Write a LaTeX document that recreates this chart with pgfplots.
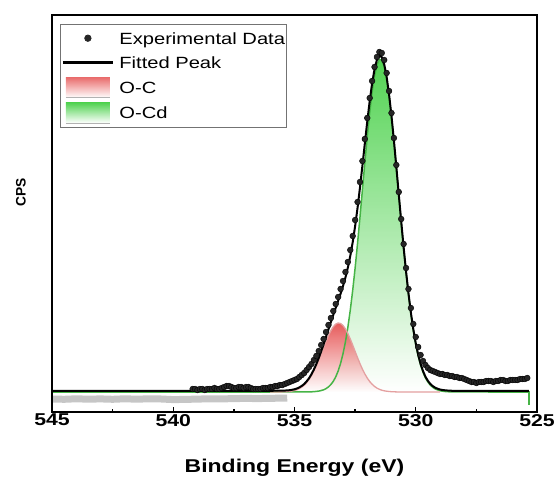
\documentclass[border=0pt]{standalone}
\usepackage{fontspec}
\setmainfont{Liberation Sans}[FakeStretch=1.24]
\newfontfamily\plainfont{Liberation Sans}
\usepackage{pgfplots}
\usepackage{pgfplotstable}
\pgfplotsset{compat=1.18}

\definecolor{gtop}{RGB}{40,200,40}
\definecolor{gmid}{RGB}{215,246,215}
\definecolor{rtop}{RGB}{225,50,50}
\definecolor{gline}{RGB}{70,180,70}
\definecolor{rline}{RGB}{228,160,160}

\pgfplotstableread{
x y
539.2 3
539.1 3
539.0 2
538.9 3
538.8 3
538.7 2
538.6 3
538.5 3
538.4 3
538.3 4
538.2 3
538.1 3
538.0 4
537.9 5
537.8 6
537.7 6
537.6 5
537.5 4
537.4 4
537.3 5
537.2 5
537.1 4
537.0 5
536.9 5
536.8 4
536.7 3
536.6 3
536.5 3
536.4 3
536.3 4
536.2 4
536.1 4
536.0 5
535.9 5
535.8 6
535.7 6
535.6 7
535.5 7
535.4 8
535.3 9
535.2 10
535.1 11
535.0 12
534.9 13
534.8 15
534.7 17
534.6 19
534.5 22
534.4 25
534.3 28
534.2 32
534.1 36
534.0 41
533.9 47
533.8 53
533.7 60
533.6 67
533.5 74
533.4 81
533.3 88
533.2 95
533.1 103
533.0 111
532.9 120
532.8 130
532.7 142
532.6 156
532.5 172
532.4 190
532.3 210
532.2 231
532.1 253
532.0 274
531.9 294
531.8 311
531.7 325
531.6 335
531.5 340
531.4 339
531.3 332
531.2 319
531.1 301
531.0 279
530.9 254
530.8 227
530.7 200
530.6 173
530.5 148
530.4 124
530.3 103
530.2 84
530.1 68
530.0 55
529.9 45
529.8 37
529.7 31
529.6 27
529.5 24
529.4 22
529.3 21
529.2 20
529.1 19
529.0 18
528.9 18
528.8 17
528.7 17
528.6 16
528.5 16
528.4 15
528.3 15
528.2 14
528.1 14
528.0 13
527.9 12
527.8 11
527.7 10
527.6 10
527.5 9
527.4 10
527.3 10
527.2 10
527.1 11
527.0 11
526.9 11
526.8 10
526.7 11
526.6 11
526.5 12
526.4 12
526.3 11
526.2 11
526.1 12
526.0 12
525.9 12
525.8 12
525.7 13
525.6 13
525.5 13
525.4 14
}\expdata

\pgfplotstableread{
x y
536.0 0
534.4 0
534.3 0.2
534.2 0.35
534.1 0.6
534.0 0.9
533.9 1.5
533.8 2.2
533.7 3.4
533.6 5.1
533.5 7.5
533.4 10.7
533.3 15.1
533.2 21.0
533.1 28.6
533.0 38.2
532.9 50.1
532.8 64.6
532.7 81.8
532.6 101.6
532.5 124.0
532.4 148.6
532.3 174.8
532.2 202.0
532.1 229.1
532.0 255.2
531.9 279.0
531.8 299.6
531.7 315.9
531.6 327.1
531.5 332.5
531.4 331.9
531.3 325.3
531.2 313.1
531.1 295.8
531.0 274.5
530.9 250.1
530.8 223.7
530.7 196.5
530.6 169.5
530.5 143.6
530.4 119.4
530.3 97.5
530.2 78.1
530.1 61.5
530.0 47.6
529.9 36.1
529.8 26.9
529.7 19.7
529.6 14.1
529.5 10.0
529.4 6.9
529.3 4.7
529.2 3.1
529.1 2.1
529.0 1.3
528.9 0.8
528.8 0.5
528.7 0.3
528.6 0.2
528.5 0
527.0 0
}\greenpeak

\pgfplotstableread{
x y
536.0 0
535.5 0.15
535.4 0.25
535.3 0.4
535.2 0.6
535.1 1.0
535.0 1.5
534.9 2.3
534.8 3.4
534.7 4.9
534.6 6.8
534.5 9.3
534.4 12.5
534.3 16.4
534.2 20.9
534.1 26.1
534.0 31.9
533.9 38.1
533.8 44.4
533.7 50.6
533.6 56.4
533.5 61.3
533.4 65.3
533.3 67.9
533.2 69.0
533.1 68.5
533.0 66.5
532.9 63.1
532.8 58.5
532.7 53.0
532.6 46.9
532.5 40.6
532.4 34.3
532.3 28.4
532.2 22.9
532.1 18.1
532.0 14.0
531.9 10.5
531.8 7.8
531.7 5.6
531.6 3.9
531.5 2.7
531.4 1.8
531.3 1.2
531.2 0.8
531.1 0.5
531.0 0.3
530.9 0.2
530.8 0.1
530.5 0
529.0 0
}\redpeak

\pgfplotstableread{
x y
545.0 0
536.0 0
535.5 0.2
535.4 0.25
535.3 0.4
535.2 0.6
535.1 1.0
535.0 1.5
534.9 2.3
534.8 3.4
534.7 4.9
534.6 6.8
534.5 9.4
534.4 12.6
534.3 16.6
534.2 21.3
534.1 26.7
534.0 32.8
533.9 39.6
533.8 46.6
533.7 54.0
533.6 61.5
533.5 68.8
533.4 76.0
533.3 83.0
533.2 90.0
533.1 97.1
533.0 104.7
532.9 113.2
532.8 123.1
532.7 134.8
532.6 148.5
532.5 164.6
532.4 182.9
532.3 203.2
532.2 224.9
532.1 247.2
532.0 269.2
531.9 289.5
531.8 307.4
531.7 321.5
531.6 331.0
531.5 335.2
531.4 333.7
531.3 326.5
531.2 313.9
531.1 296.3
531.0 274.8
530.9 250.3
530.8 223.8
530.7 196.5
530.6 169.5
530.5 143.6
530.4 119.4
530.3 97.5
530.2 78.1
530.1 61.5
530.0 47.6
529.9 36.1
529.8 26.9
529.7 19.7
529.6 14.1
529.5 10.0
529.4 6.9
529.3 4.7
529.2 3.1
529.1 2.1
529.0 1.3
528.9 0.8
528.8 0.5
528.7 0.3
528.6 0.2
528.5 0
525.33 0
}\fitpeak

\begin{document}
\begin{tikzpicture}
\begin{axis}[
  at={(52bp,70bp)}, anchor=south west,
  scale only axis, width=485bp, height=397bp,
  xmin=525, xmax=545, ymin=-20, ymax=377,
  x dir=reverse,
  clip=false,
  unbounded coords=jump,
  xtick={525,530,535,540,545},
  minor xtick={527.5,532.5,537.5,542.5},
  ytick=\empty,
  tick pos=left,
  tick align=inside,
  major tick length=5bp, minor tick length=3bp,
  tick style={black, line width=1.3bp},
  axis line style={black, line width=2bp},
  xticklabel style={font=\fontsize{17.2}{20}\selectfont\bfseries, inner sep=0pt, yshift=-2bp},
  /pgf/number format/assume math mode=true,
  xlabel={Binding Energy (eV)},
  xlabel style={font=\fontsize{18.6}{22}\selectfont\bfseries, at={(axis description cs:0.5,0)}, anchor=base, yshift=-60bp, inner sep=0pt},
  ylabel={CPS},
  ylabel style={font=\plainfont\bfseries\fontsize{13.8}{16}\selectfont, at={(axis description cs:-0.064,0.553)}, anchor=center, inner sep=0pt},
  legend style={at={(0,1)}, anchor=north west, xshift=8bp, yshift=-9bp,
    draw=black!55, line width=0.8bp, fill=white,
    inner xsep=1bp, inner ysep=3.8bp, row sep=4.8bp, column sep=5bp,
    font=\fontsize{16.3}{18}\selectfont,
    nodes={inner sep=0pt, text height=16bp, text depth=4bp}},
  legend cell align=left,
]
% grey band below the baseline (drawn as a wide noisy stroke)
\addplot[gray!45, line width=7bp, forget plot] coordinates {
(545,-7) (544.5,-7.3) (544,-6.8) (543.5,-7.2) (543,-6.9) (542.5,-7.3) (542,-6.8)
(541.5,-7.2) (541,-6.8) (540.5,-7) (540,-7.6) (539.5,-7.4) (539,-7.1) (538.5,-6.8)
(538,-6.9) (537.5,-6.6) (537,-6.4) (536.5,-6.6) (536,-6.3) (535.6,-6.2) (535.3,-6)
};
% experimental data
\addplot[only marks, mark=*, mark size=2.9bp, mark options={fill=black!85, draw=black, line width=0.4bp}, forget plot] table[x=x,y=y] {\expdata};
% component fills
\addplot[draw=none, top color=gtop, middle color=gmid, bottom color=white, fill opacity=0.8, forget plot] table[x=x,y=y] {\greenpeak} \closedcycle;
\addplot[draw=none, top color=rtop, bottom color=white, fill opacity=0.8, forget plot] table[x=x,y=y] {\redpeak} \closedcycle;
% component outlines
\addplot[gline, line width=1.5bp, forget plot] coordinates {(545,0) (536,0)};
\addplot[gline, line width=1.5bp, forget plot] table[x=x,y=y] {\greenpeak};
\addplot[gline, line width=1.5bp, forget plot] coordinates {(527,0) (525.33,0) (525.33,-13)};
\addplot[rline, line width=1.3bp, forget plot] table[x=x,y=y] {\redpeak};
% fitted envelope
\addplot[black, line width=2bp, yshift=1.2bp, forget plot] table[x=x,y=y] {\fitpeak};
% axis frame as a plotted outline
\addplot[black, line width=2bp, line cap=rect, line join=miter, forget plot] coordinates {
(545,-20) (525,-20) (525,377) (545,377) (545,-20)};
% inward tick marks on the bottom axis
\addplot[black, line width=1.3bp, forget plot] coordinates {
(540,-20) (540,-15) (nan,nan) (535,-20) (535,-15) (nan,nan) (530,-20) (530,-15) (nan,nan)
(542.5,-20) (542.5,-17) (nan,nan) (537.5,-20) (537.5,-17) (nan,nan)
(532.5,-20) (532.5,-17) (nan,nan) (527.5,-20) (527.5,-17)};
% legend
\addlegendimage{legend image code/.code={\path[draw=none, fill=none] (0bp,-10bp) rectangle (50bp,10bp); \fill[black!85] (25bp,0bp) circle (3.2bp);}}
\addlegendentry{Experimental Data}
\addlegendimage{legend image code/.code={\path[draw=none, fill=none] (0bp,-10bp) rectangle (50bp,10bp); \draw[black, line width=3bp] (0bp,0bp) -- (50bp,0bp);}}
\addlegendentry{Fitted Peak}
\addlegendimage{legend image code/.code={\path[draw=none, fill=none] (0bp,-10bp) rectangle (50bp,10bp); \shade[draw=none, top color=rtop!70!white, bottom color=white] (3bp,-10bp) rectangle (47bp,10bp); \draw[gray!60, line width=0.8bp] (3bp,-10bp) -- (47bp,-10bp);}}
\addlegendentry{O-C}
\addlegendimage{legend image code/.code={\path[draw=none, fill=none] (0bp,-10bp) rectangle (50bp,10bp); \shade[draw=none, top color=gtop!80!white, bottom color=white] (3bp,-10bp) rectangle (47bp,10bp); \draw[gray!60, line width=0.8bp] (3bp,-10bp) -- (47bp,-10bp);}}
\addlegendentry{O-Cd}
\end{axis}
\pgfresetboundingbox
\useasboundingbox (0,0) rectangle (558bp,482bp);
\end{tikzpicture}
\end{document}
